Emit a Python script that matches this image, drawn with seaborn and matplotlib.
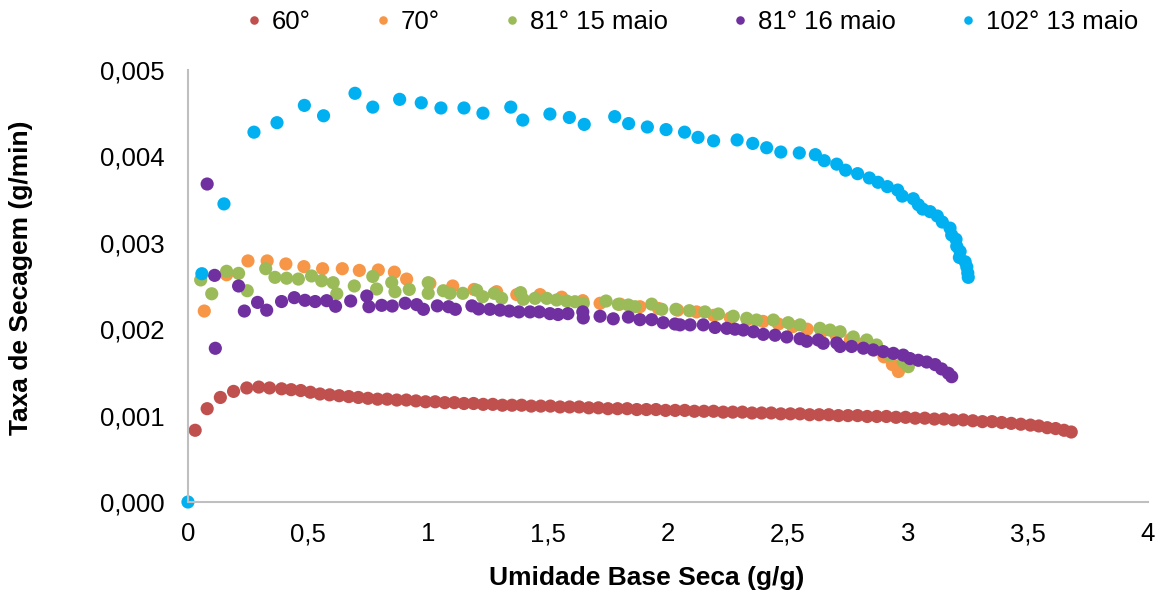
import numpy as np
import pandas as pd
import matplotlib
matplotlib.use("Agg")
import matplotlib.pyplot as plt
import seaborn as sns
from matplotlib.ticker import FuncFormatter

# Series labels and colours
series_names = ["60°", "70°", "81° 15 maio", "81° 16 maio", "102° 13 maio"]
series_colors = ["#C0504D", "#F79646", "#9BBB59", "#7030A0", "#00B0F0"]

# 60 °C
x_60 = [0.03, 0.08, 0.135, 0.19, 0.245, 0.295, 0.34, 0.39, 0.43, 0.47, 0.51, 0.55,
        0.59, 0.63, 0.67, 0.71, 0.75, 0.79, 0.83, 0.87, 0.91, 0.95, 0.99, 1.03,
        1.07, 1.11, 1.15, 1.19, 1.23, 1.27, 1.31, 1.35, 1.39, 1.43, 1.47, 1.51,
        1.55, 1.59, 1.63, 1.67, 1.71, 1.75, 1.79, 1.83, 1.87, 1.91, 1.95, 1.99,
        2.03, 2.07, 2.11, 2.15, 2.19, 2.23, 2.27, 2.31, 2.35, 2.39, 2.43, 2.47,
        2.51, 2.55, 2.59, 2.63, 2.67, 2.71, 2.75, 2.79, 2.83, 2.87, 2.91, 2.95,
        2.99, 3.03, 3.07, 3.11, 3.15, 3.19, 3.23, 3.27, 3.31, 3.35, 3.39, 3.43,
        3.47, 3.51, 3.545, 3.58, 3.615, 3.65, 3.68]
y_60 = [0.00083, 0.00108, 0.00121, 0.00128, 0.00132, 0.00133, 0.00132, 0.00131, 0.00130, 0.00129, 0.00127, 0.00125,
        0.00124, 0.00123, 0.00122, 0.00121, 0.00120, 0.00119, 0.00119, 0.00118, 0.00118, 0.00117, 0.00116, 0.00116,
        0.00115, 0.00115, 0.00114, 0.00114, 0.00113, 0.00113, 0.00112, 0.00112, 0.00112, 0.00111, 0.00111, 0.00111,
        0.00110, 0.00110, 0.00110, 0.00109, 0.00109, 0.00108, 0.00108, 0.00108, 0.00107, 0.00107, 0.00107, 0.00106,
        0.00106, 0.00106, 0.00105, 0.00105, 0.00105, 0.00104, 0.00104, 0.00104, 0.00103, 0.00103, 0.00103, 0.00102,
        0.00102, 0.00102, 0.00101, 0.00101, 0.00101, 0.00100, 0.00100, 0.00100, 0.00099, 0.00099, 0.00099, 0.00098,
        0.00098, 0.00097, 0.00097, 0.00096, 0.00096, 0.00095, 0.00095, 0.00094, 0.00093, 0.00093, 0.00092, 0.00091,
        0.00090, 0.00089, 0.00088, 0.00086, 0.00085, 0.00083, 0.00081]

# 70 °C
x_70 = [0.068, 0.161, 0.25, 0.33, 0.408, 0.483, 0.561, 0.643, 0.714, 0.793, 0.86, 0.911,
        1.008, 1.103, 1.192, 1.286, 1.37, 1.467, 1.557, 1.645, 1.717, 1.80, 1.883, 1.96,
        2.04, 2.119, 2.19, 2.26, 2.33, 2.396, 2.46, 2.52, 2.58, 2.64, 2.70, 2.76,
        2.81, 2.86, 2.90, 2.935, 2.96]
y_70 = [0.00221, 0.00263, 0.00279, 0.00279, 0.002755, 0.002724, 0.00270, 0.00270, 0.00268, 0.002685, 0.00266, 0.00258,
        0.00253, 0.00250, 0.00246, 0.002434, 0.00240, 0.00240, 0.00237, 0.00233, 0.00230, 0.00229, 0.00226, 0.00224,
        0.00222, 0.00220, 0.00216, 0.00213, 0.00211, 0.00209, 0.00206, 0.00203, 0.00200, 0.00197, 0.00193, 0.00188,
        0.00183, 0.00176, 0.00168, 0.00159, 0.00151]

# 81 °C, 15 maio
x_81a = [0.053, 0.099, 0.161, 0.211, 0.247, 0.324, 0.3625, 0.411, 0.46, 0.515, 0.557, 0.605,
         0.62, 0.693, 0.77, 0.786, 0.849, 0.8625, 0.922, 1.001, 1.001, 1.064, 1.092, 1.145,
         1.203, 1.228, 1.276, 1.307, 1.386, 1.397, 1.446, 1.495, 1.536, 1.578, 1.6125, 1.647,
         1.742, 1.793, 1.835, 1.8625, 1.932, 1.974, 2.033, 2.089, 2.154, 2.21, 2.272, 2.328,
         2.369, 2.439, 2.501, 2.55, 2.633, 2.675, 2.717, 2.772, 2.828, 2.869, 2.925, 2.98, 3.001]
y_81a = [0.00257, 0.00241, 0.00267, 0.002646, 0.002445, 0.00270, 0.00260, 0.00259, 0.00258, 0.002616, 0.00256, 0.002538,
         0.00241, 0.00250, 0.00261, 0.002465, 0.00254, 0.002434, 0.00246, 0.002538, 0.002415, 0.002445, 0.002415, 0.002415,
         0.00245, 0.002376, 0.002415, 0.002357, 0.002423, 0.002346, 0.002357, 0.002357, 0.002338, 0.002326, 0.002318, 0.00230,
         0.002326, 0.002288, 0.00228, 0.00226, 0.00229, 0.00223, 0.00223, 0.002214, 0.00220, 0.002176, 0.00215, 0.002126,
         0.002106, 0.002106, 0.002075, 0.00205, 0.00201, 0.00199, 0.00197, 0.00191, 0.001875, 0.001817, 0.00170, 0.001624, 0.001566]

# 81 °C, 16 maio
x_81b = [0.08, 0.111, 0.114, 0.211, 0.235, 0.29, 0.328, 0.39, 0.443, 0.4875, 0.53, 0.578,
         0.615, 0.678, 0.745, 0.754, 0.807, 0.851, 0.905, 0.953, 0.981, 1.039, 1.086, 1.114,
         1.183, 1.211, 1.258, 1.30, 1.339, 1.379, 1.425, 1.464, 1.508, 1.542, 1.583, 1.645,
         1.647, 1.717, 1.772, 1.835, 1.883, 1.932, 1.98, 2.029, 2.05, 2.092, 2.147, 2.196,
         2.245, 2.279, 2.314, 2.356, 2.397, 2.446, 2.495, 2.55, 2.578, 2.626, 2.647, 2.703,
         2.717, 2.765, 2.814, 2.855, 2.897, 2.939, 2.98, 3.008, 3.043, 3.078, 3.113, 3.14,
         3.168, 3.182]
y_81b = [0.00368, 0.002623, 0.001779, 0.00250, 0.00221, 0.00231, 0.00222, 0.00232, 0.002365, 0.002334, 0.00232, 0.00233,
         0.002265, 0.002326, 0.002384, 0.00226, 0.002276, 0.002268, 0.00230, 0.002284, 0.00223, 0.00227, 0.00226, 0.00223,
         0.00227, 0.002234, 0.00223, 0.00222, 0.00221, 0.00220, 0.00220, 0.00220, 0.00218, 0.00217, 0.00218, 0.00220,
         0.00213, 0.00215, 0.00212, 0.00214, 0.00211, 0.00211, 0.002075, 0.00206, 0.00205, 0.00205, 0.00205, 0.00202,
         0.00201, 0.00200, 0.00199, 0.00197, 0.00194, 0.00193, 0.00191, 0.00189, 0.00186, 0.001875, 0.001837, 0.00184,
         0.00180, 0.00180, 0.00178, 0.00176, 0.00174, 0.00172, 0.00170, 0.00166, 0.00164, 0.00162, 0.00159, 0.00154,
         0.00149, 0.00145]

# 102 °C, 13 maio
x_102 = [0.0, 0.058, 0.15, 0.275, 0.371, 0.485, 0.565, 0.696, 0.77, 0.882, 0.972, 1.054,
         1.15, 1.229, 1.345, 1.395, 1.508, 1.589, 1.651, 1.778, 1.836, 1.914, 1.992, 2.069,
         2.125, 2.19, 2.288, 2.353, 2.411, 2.47, 2.547, 2.614, 2.651, 2.703, 2.74, 2.79,
         2.839, 2.875, 2.914, 2.957, 2.976, 3.022, 3.043, 3.061, 3.092, 3.122, 3.143, 3.175,
         3.182, 3.20, 3.203, 3.217, 3.214, 3.238, 3.245, 3.249, 3.251]
y_102 = [0.0, 0.002642, 0.00345, 0.00428, 0.00439, 0.00459, 0.00447, 0.00473, 0.00457, 0.00466, 0.00462, 0.00456,
         0.00456, 0.00450, 0.00457, 0.00442, 0.00449, 0.00445, 0.00437, 0.00446, 0.00438, 0.00434, 0.00431, 0.00428,
         0.00422, 0.00418, 0.00419, 0.00415, 0.00410, 0.00405, 0.00404, 0.00402, 0.00395, 0.00391, 0.00384, 0.00380,
         0.00375, 0.00370, 0.00365, 0.00361, 0.00354, 0.00351, 0.00344, 0.00339, 0.00336, 0.00331, 0.00324, 0.00317,
         0.00309, 0.00304, 0.00296, 0.00290, 0.00283, 0.00278, 0.00272, 0.00265, 0.00260]

xs = [x_60, x_70, x_81a, x_81b, x_102]
ys = [y_60, y_70, y_81a, y_81b, y_102]
df = pd.concat(
    [pd.DataFrame({"umidade": x, "taxa": y, "serie": name})
     for x, y, name in zip(xs, ys, series_names)],
    ignore_index=True,
)

sns.set_theme(style="white")
plt.rcParams["font.family"] = ["Liberation Sans", "DejaVu Sans"]
plt.rcParams["text.color"] = "black"
plt.rcParams["axes.labelcolor"] = "black"

fig = plt.figure(figsize=(11.66, 5.95), dpi=100)
ax = fig.add_axes([0.1612, 0.1563, 0.8234, 0.7261])

sns.scatterplot(
    data=df, x="umidade", y="taxa", hue="serie",
    hue_order=series_names, palette=series_colors,
    s=90, linewidth=0, alpha=1, ax=ax, legend=True, clip_on=False,
)

ax.set_xlim(0, 4)
ax.set_ylim(0, 0.005)
ax.set_xticks(np.arange(0, 4.01, 0.5))
ax.set_yticks(np.arange(0, 0.00501, 0.001))

def comma_fmt(decimals):
    def f(v, pos):
        if decimals is None:
            s = f"{v:g}"
        else:
            s = f"{v:.{decimals}f}"
        return s.replace(".", ",")
    return f

ax.xaxis.set_major_formatter(FuncFormatter(comma_fmt(None)))
ax.yaxis.set_major_formatter(FuncFormatter(comma_fmt(3)))
ax.tick_params(axis="both", labelsize=18.5, colors="#000000", length=0)
ax.tick_params(axis="x", pad=14.5)
ax.tick_params(axis="y", pad=17)

for side in ["top", "right"]:
    ax.spines[side].set_visible(False)
for side in ["left", "bottom"]:
    ax.spines[side].set_color("#BFBFBF")
    ax.spines[side].set_linewidth(1.5)

ax.set_xlabel("Umidade Base Seca (g/g)", fontsize=19, fontweight="bold")
ax.set_ylabel("Taxa de Secagem (g/min)", fontsize=19, fontweight="bold")
ax.xaxis.set_label_coords(0.478, -0.149)
ax.yaxis.set_label_coords(-0.161, 0.5185)

handles, labels = ax.get_legend_handles_labels()
leg = ax.legend(handles, labels, loc="center", bbox_to_anchor=(0.524, 1.111),
                ncol=5, frameon=False, fontsize=18.5, markerscale=0.65,
                columnspacing=2.4, handletextpad=0.31, handlelength=0.8)
for t in leg.get_texts():
    t.set_color("black")

fig.savefig("out.png", dpi=100)
